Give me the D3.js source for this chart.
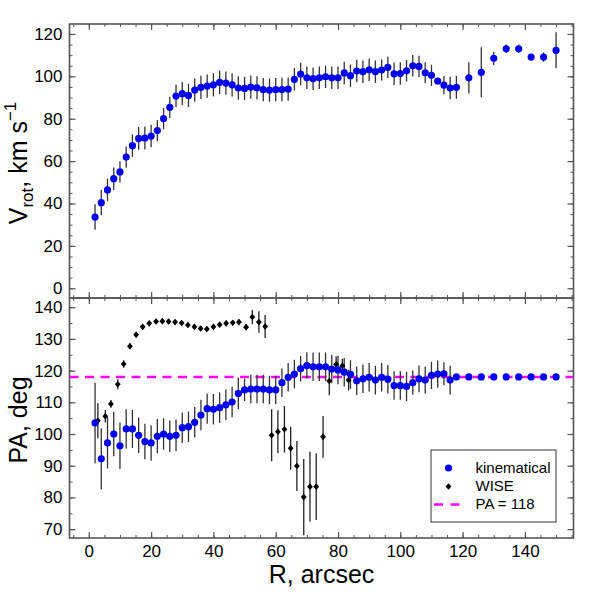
<!DOCTYPE html>
<html>
<head>
<meta charset="utf-8">
<script src="https://cdn.jsdelivr.net/npm/d3@7"></script>
<style>
  body { margin: 0; background: #fff; }
  svg text { font-family: "Liberation Sans", Arial, sans-serif; fill: #000; }
</style>
</head>
<body>
<div id="chart"></div>
<script>
// kinematical rotation curve + position angle
var kinR = [2, 4, 6, 8, 10, 12, 14, 16, 18, 20, 22, 24, 26, 28, 30, 32, 34, 36, 38, 40,
            42, 44, 46, 48, 50, 52, 54, 56, 58, 60, 62, 64, 66, 68, 70, 72, 74, 76, 78, 80,
            82, 84, 86, 88, 90, 92, 94, 96, 98, 100, 102, 104, 106, 108, 110, 112, 114, 116, 118,
            122, 126, 130, 134, 138, 142, 146, 150];
var kinV = [33.6, 40.4, 46.4, 51.7, 54.9, 61.9, 67.3, 70.7, 70.9, 71.8, 74.4, 80.0, 85.4, 90.7, 91.8, 91.0, 93.5, 94.8, 95.4, 96.0,
            97.2, 96.8, 96.0, 94.5, 94.3, 94.9, 94.6, 93.7, 93.5, 93.7, 93.8, 94.0, 98.6, 101.1, 99.3, 98.9, 99.3, 99.8, 99.3, 99.3,
            101.6, 100.3, 102.5, 102.2, 103.1, 102.2, 103.0, 104.2, 101.2, 101.3, 102.6, 105.0, 104.7, 101.7, 100.5, 97.8, 95.9, 94.5, 94.8,
            99.3, 101.9, 108.5, 113.0, 113.0, 109.1, 109.1, 112.3];
var kinVerr = [6.0, 6.0, 5.3, 5.3, 5.0, 5.0, 5.3, 5.4, 5.4, 5.3, 5.0, 5.0, 5.0, 5.3, 5.5, 5.5, 5.5, 5.5, 5.5, 5.5,
               5.5, 5.5, 5.5, 5.5, 5.5, 5.5, 5.5, 5.5, 5.5, 5.5, 5.5, 5.5, 5.3, 5.3, 5.3, 5.3, 5.3, 5.3, 5.3, 5.3,
               5.3, 5.3, 5.3, 5.3, 5.3, 5.3, 5.0, 5.0, 5.3, 5.3, 5.1, 5.1, 5.0, 5.0, 5.0, 1.5, 4.3, 5.3, 5.4,
               7.4, 11.8, 3.1, 2.0, 2.0, 1.3, 2.2, 8.5];
var kinPA = [103.5, 92.2, 97.2, 100.0, 96.3, 101.6, 101.6, 99.6, 97.6, 97.2, 99.3, 100.0, 99.3, 99.6, 102.0, 102.3, 103.7, 106.0, 108.0, 107.8,
             108.3, 109.2, 110.1, 112.8, 113.9, 114.2, 114.2, 114.2, 113.9, 113.9, 116.2, 117.9, 118.9, 120.6, 121.6, 121.2, 121.2, 121.2, 120.5, 120.2,
             119.5, 118.8, 116.8, 117.4, 117.9, 117.0, 117.9, 117.3, 115.3, 115.3, 115.0, 116.2, 117.4, 117.0, 118.5, 118.9, 119.0, 117.0, 118.0,
             118, 118, 118, 118, 118, 118, 118, 118];
var kinPAerr = [12.7, 9.6, 8.1, 7.0, 7.3, 6.2, 6.0, 5.6, 5.6, 5.6, 5.4, 5.0, 5.0, 5.0, 4.8, 4.8, 4.8, 4.8, 4.8, 4.8,
                4.8, 4.8, 4.8, 5.0, 3.5, 4.5, 4.5, 4.5, 4.5, 4.5, 4.5, 4.5, 4.5, 4.0, 4.2, 4.5, 4.5, 4.5, 4.5, 4.5,
                4.5, 4.5, 4.5, 4.5, 4.5, 4.5, 4.5, 4.5, 4.5, 4.5, 4.6, 3.8, 4.2, 4.2, 4.3, 4.3, 3.6, 4.5, 0,
                0, 0, 0, 0, 0, 0, 0, 0];

// WISE photometric PA
var wiseR = [2.9, 5.3, 7.1, 9.3, 11.2, 13.2, 15.2, 17.3, 19.4, 21.6, 23.6, 25.6, 27.7, 29.8, 31.8, 33.9, 35.9, 37.9, 40.0, 42.0,
             44.1, 46.2, 48.2, 50.5, 52.5, 54.6, 56.6, 58.7, 60.7, 62.8, 64.8, 66.8, 69.0, 71.0, 73.0, 75.2, 77.2, 79.4, 81.4, 83.4];
var wisePA = [104.2, 105.6, 109.5, 115.7, 122.1, 127.7, 131.3, 133.8, 134.9, 135.5, 135.6, 135.5, 135.3, 135.0, 134.4, 133.8, 133.3, 133.1, 133.8, 134.5,
              134.9, 135.1, 135.3, 133.7, 136.9, 135.3, 133.9, 99.6, 100.7, 101.5, 95.5, 89.9, 80.1, 83.4, 83.4, 99.1, 116.7, 122.0, 121.5, 117.0];
var wiseErr = [5.5, 2.0, 1.2, 1.6, 1.2, 1.0, 0.8, 0.8, 0.7, 0.7, 0.7, 0.7, 0.7, 0.7, 0.7, 0.7, 0.7, 0.7, 0.7, 0.7,
               0.8, 0.8, 0.8, 1.0, 2.3, 3.4, 3.6, 8.2, 6.8, 7.3, 6.8, 7.9, 12.0, 11.0, 10.5, 6.6, 4.5, 2.5, 2.2, 3.3];

var paConst = 118;

var xTicks = [0, 20, 40, 60, 80, 100, 120, 140];
var vTicks = [0, 20, 40, 60, 80, 100, 120];
var paTicks = [70, 80, 90, 100, 110, 120, 130, 140];
var legendLabels = ["kinematical", "WISE", "PA = 118"];

var W = 598, H = 598;
var frame = { left: 69.5, right: 573.5, top: 24, mid: 298, bottom: 538 };
var blue = "#0000f0", magenta = "#ff00ff", axisCol = "#555";

var x = d3.scaleLinear().domain([-6.2, 155.6]).range([frame.left, frame.right]);
var yV = d3.scaleLinear().domain([-4.6, 124.7]).range([frame.mid, frame.top]);
var yPA = d3.scaleLinear().domain([67.2, 142.9]).range([frame.bottom, frame.mid]);

var svg = d3.select("#chart").append("svg")
        .attr("width", W)
        .attr("height", H)
        .style("background", "#fff");

svg.append("defs").append("clipPath").attr("id", "clipPA")
        .append("rect")
        .attr("x", frame.left).attr("y", frame.mid)
        .attr("width", frame.right - frame.left)
        .attr("height", frame.bottom - frame.mid);

function range5(a, b) {
        var out = [];
        for (var v = a; v <= b; v += 5) out.push(v);
        return out;
}

// draws all four sides of a panel with inward ticks
function panelAxes(yScale, yMajor, top, bottom, showX) {
        var minorX = range5(-5, 155);
        var minorY = range5(Math.ceil(yScale.domain()[0] / 5) * 5, yScale.domain()[1]);
        var sets = [
                { ax: d3.axisBottom(x), tr: "translate(0," + bottom + ")", major: xTicks, minor: minorX, lab: showX },
                { ax: d3.axisTop(x), tr: "translate(0," + top + ")", major: xTicks, minor: minorX, lab: false },
                { ax: d3.axisLeft(yScale), tr: "translate(" + frame.left + ",0)", major: yMajor, minor: minorY, lab: true },
                { ax: d3.axisRight(yScale), tr: "translate(" + frame.right + ",0)", major: yMajor, minor: minorY, lab: false }
        ];
        sets.forEach(function(s) {
                var gMinor = svg.append("g").attr("transform", s.tr)
                        .call(s.ax.tickValues(s.minor).tickSize(-3).tickFormat(""));
                gMinor.select(".domain").remove();
                gMinor.selectAll("line").attr("stroke", axisCol);

                var ax2 = s.ax.tickValues(s.major).tickSize(-6).tickPadding(7)
                        .tickFormat(s.lab ? d3.format("d") : "");
                var gMajor = svg.append("g").attr("transform", s.tr).call(ax2);
                gMajor.select(".domain").remove();
                gMajor.selectAll("line").attr("stroke", axisCol).attr("stroke-width", 1.2);
                gMajor.selectAll("text")
                        .style("font-size", "17px")
                        .style("font-family", "'Liberation Sans', Arial, sans-serif")
                        .attr("fill", "#000");
        });
        svg.append("rect")
                .attr("x", frame.left).attr("y", top)
                .attr("width", frame.right - frame.left).attr("height", bottom - top)
                .attr("fill", "none").attr("stroke", axisCol).attr("stroke-width", 1.6);
}

function errBars(g, xs, ys, es, yScale, col) {
        g.selectAll(null)
                .data(xs.map(function(d, i) { return { r: d, v: ys[i], e: es[i] }; })
                        .filter(function(d) { return d.e > 0; }))
                .enter().append("line")
                .attr("x1", function(d) { return x(d.r); })
                .attr("x2", function(d) { return x(d.r); })
                .attr("y1", function(d) { return yScale(d.v - d.e); })
                .attr("y2", function(d) { return yScale(d.v + d.e); })
                .attr("stroke", col)
                .attr("stroke-width", 1.3);
}

// ---- top panel: rotation velocity
panelAxes(yV, vTicks, frame.top, frame.mid, false);
var gTop = svg.append("g");
errBars(gTop, kinR, kinV, kinVerr, yV, "#333");
gTop.selectAll("circle")
        .data(kinR)
        .enter().append("circle")
        .attr("cx", function(d) { return x(d); })
        .attr("cy", function(d, i) { return yV(kinV[i]); })
        .attr("r", 3.6)
        .attr("fill", blue);

// ---- bottom panel: position angle
panelAxes(yPA, paTicks, frame.mid, frame.bottom, true);
var gBot = svg.append("g").attr("clip-path", "url(#clipPA)");

gBot.append("line")
        .attr("x1", frame.left).attr("x2", frame.right)
        .attr("y1", yPA(paConst)).attr("y2", yPA(paConst))
        .attr("stroke", magenta)
        .attr("stroke-width", 2.5)
        .attr("stroke-dasharray", "9,6.5");

errBars(gBot, wiseR, wisePA, wiseErr, yPA, "#222");
errBars(gBot, kinR, kinPA, kinPAerr, yPA, "#333");

// small near-square diamond
var diamond = "M0,-3.3L2.9,0L0,3.3L-2.9,0Z";
gBot.selectAll("path.wise")
        .data(wiseR)
        .enter().append("path")
        .attr("class", "wise")
        .attr("d", diamond)
        .attr("transform", function(d, i) { return "translate(" + x(d) + "," + yPA(wisePA[i]) + ")"; })
        .attr("fill", "#000");

gBot.selectAll("circle")
        .data(kinR)
        .enter().append("circle")
        .attr("cx", function(d) { return x(d); })
        .attr("cy", function(d, i) { return yPA(kinPA[i]); })
        .attr("r", 3.6)
        .attr("fill", blue);

// ---- legend
var lg = svg.append("g").attr("transform", "translate(431,450)");
lg.append("rect")
        .attr("width", 125).attr("height", 72)
        .attr("fill", "#fff").attr("stroke", "#333").attr("stroke-width", 1);
lg.append("circle").attr("cx", 17.5).attr("cy", 18).attr("r", 3.6).attr("fill", blue);
lg.append("path").attr("d", diamond).attr("transform", "translate(17.5,36.5)").attr("fill", "#000");
lg.append("line")
        .attr("x1", 3).attr("x2", 29).attr("y1", 54.5).attr("y2", 54.5)
        .attr("stroke", magenta).attr("stroke-width", 2.5).attr("stroke-dasharray", "9,7.5");
legendLabels.forEach(function(s, i) {
        lg.append("text")
                .attr("x", 44.5)
                .attr("y", 23 + i * 18)
                .style("font-size", "15px")
                .text(s);
});

// ---- axis titles
svg.append("text")
        .attr("x", (frame.left + frame.right) / 2)
        .attr("y", 583)
        .attr("text-anchor", "middle")
        .style("font-size", "25px")
        .text("R, arcsec");

var tV = svg.append("text")
        .attr("transform", "translate(27," + ((frame.top + frame.mid) / 2 + 2) + ") rotate(-90)")
        .attr("text-anchor", "middle")
        .style("font-size", "25px");
tV.append("tspan").text("V");
tV.append("tspan").attr("dy", 6).style("font-size", "17px").text("rot");
tV.append("tspan").attr("dy", -6).text(", km s");
tV.append("tspan").attr("dy", -11).style("font-size", "17px").text("\u22121");

svg.append("text")
        .attr("transform", "translate(27," + ((frame.mid + frame.bottom) / 2 + 2) + ") rotate(-90)")
        .attr("text-anchor", "middle")
        .style("font-size", "25px")
        .text("PA, deg");
</script>
</body>
</html>
